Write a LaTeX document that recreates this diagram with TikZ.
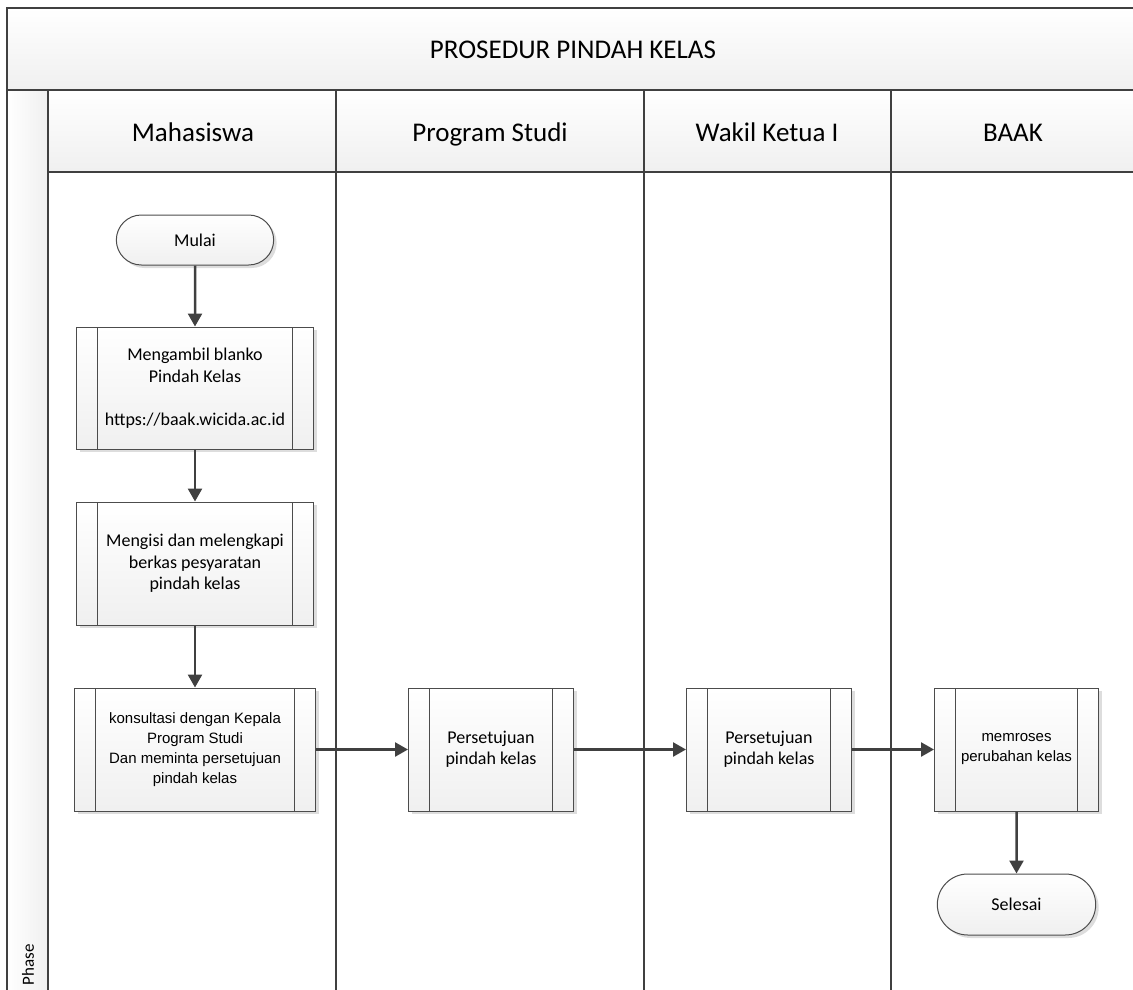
\documentclass[tikz,border=0pt]{standalone}
\usepackage{fontspec}
\setmainfont{Carlito}
\newfontfamily\arialfont{Liberation Sans}
\usetikzlibrary{shapes,arrows,arrows.meta,positioning,shadows}

\tikzset{
  garis/.style={draw=black!75,line width=1.5pt},
  pita/.style={top color=white,bottom color=gray!12},
  judul/.style={font=\fontsize{27}{32}\selectfont,anchor=base},
  bayang/.style={drop shadow={shadow xshift=3pt,shadow yshift=-3pt,fill=gray!45,opacity=.6}},
  proses/.style={rectangle,draw=black!70,line width=1pt,top color=white,bottom color=gray!12,
    align=center,inner sep=0pt,bayang,font=\fontsize{18}{21.5}\selectfont,
    path picture={
      \draw[black!70,line width=1pt]
        ([xshift=21pt]path picture bounding box.north west) -- ([xshift=21pt]path picture bounding box.south west)
        ([xshift=-21pt]path picture bounding box.north east) -- ([xshift=-21pt]path picture bounding box.south east);
    }},
  arial/.style={font=\arialfont\fontsize{15}{20}\selectfont},
  terminal/.style={rounded rectangle,draw=black!70,line width=1pt,top color=white,bottom color=gray!12,
    minimum width=164pt,bayang,font=\fontsize{18}{21.5}\selectfont},
  panah/.style={draw=black!75,line width=2.5pt,-{Triangle[length=13pt,width=14pt]}}
}

\begin{document}
\begin{tikzpicture}[x=1pt,y=-1pt]
  \useasboundingbox (0,0) rectangle (1133,990);
  \clip (0,0) rectangle (1133,990);
  % pita judul dan kepala lajur
  \fill[pita] (7,8) rectangle (1139,90);
  \fill[pita] (48,90) rectangle (1139,172);
  \fill[left color=white,right color=gray!12] (7,90) rectangle (48,1000);
  \draw[garis] (7,1000) -- (7,8) -- (1139,8);
  \draw[garis] (7,90) -- (1139,90);
  \draw[garis] (48,172) -- (1139,172);
  \foreach \x in {48,336,644,891}{
    \draw[garis] (\x,90) -- (\x,1000);
  }
  \node[judul] (judul) at (573,59) {PROSEDUR PINDAH KELAS};
  \node[judul] (mhs) at (193,141) {Mahasiswa};
  \node[judul] (prodi) at (490,141) {Program Studi};
  \node[judul] (wakil) at (767,141) {Wakil Ketua I};
  \node[judul] (baak) at (1013,141) {BAAK};
  \node[rotate=90,font=\fontsize{17}{20}\selectfont] (fase) at (28,965) {Phase};

  % alur
  \node[terminal,minimum height=50pt] (mulai) at (195,240) {Mulai};
  \node[proses,minimum width=237pt,minimum height=122pt,below=61pt of mulai] (ambil)
    {Mengambil blanko\\Pindah Kelas\\[21.5pt]https://baak.wicida.ac.id};
  \node[proses,minimum width=237pt,minimum height=123pt,below=52pt of ambil] (isi)
    {Mengisi dan melengkapi\\berkas pesyaratan\\pindah kelas};
  \node[proses,arial,minimum width=241pt,minimum height=123pt,below=62pt of isi] (konsul)
    {konsultasi dengan Kepala\\Program Studi\\Dan meminta persetujuan\\pindah kelas};
  \node[proses,minimum width=165pt,minimum height=123pt,right=92pt of konsul] (setujuprodi)
    {Persetujuan\\pindah kelas};
  \node[proses,minimum width=165pt,minimum height=123pt,right=112pt of setujuprodi] (setujuwakil)
    {Persetujuan\\pindah kelas};
  \node[proses,arial,minimum width=164pt,minimum height=123pt,right=82pt of setujuwakil] (ubah)
    {memroses\\perubahan kelas};
  \node[terminal,minimum width=165pt,minimum height=61pt,below=62pt of ubah] (selesai) {Selesai};

  \draw[panah] (mulai) -- (ambil);
  \draw[panah] (ambil) -- (isi);
  \draw[panah] (isi) -- (konsul);
  \draw[panah] (konsul) -- (setujuprodi);
  \draw[panah] (setujuprodi) -- (setujuwakil);
  \draw[panah] (setujuwakil) -- (ubah);
  \draw[panah] (ubah) -- (selesai);
\end{tikzpicture}
\end{document}
